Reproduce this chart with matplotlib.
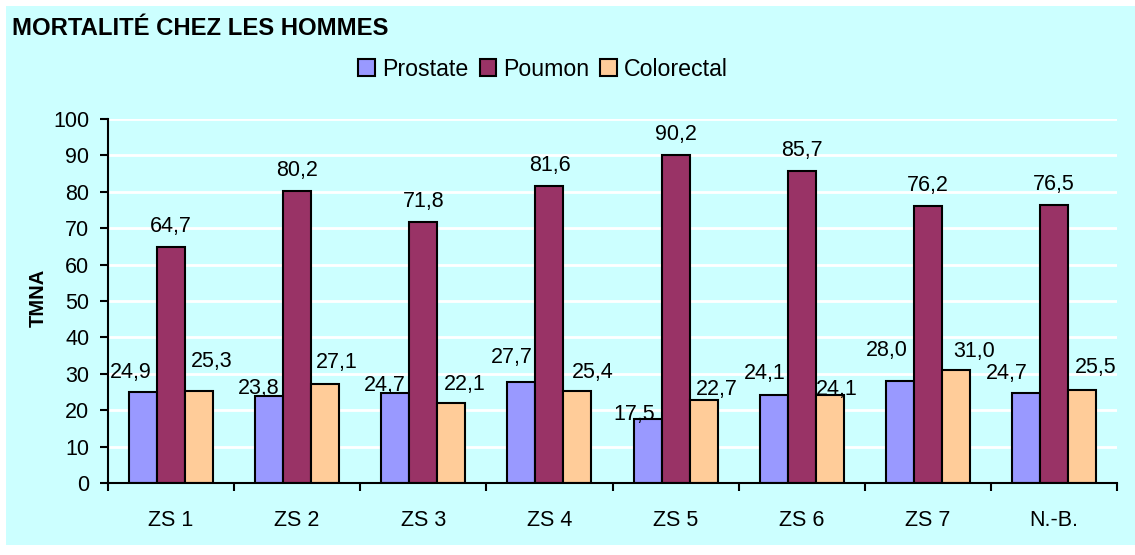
import matplotlib
matplotlib.use("Agg")
import matplotlib.pyplot as plt
from matplotlib.patches import Patch, Rectangle
import numpy as np

plt.rcParams["font.family"] = ["Liberation Sans", "DejaVu Sans"]

TITLE = "MORTALITÉ CHEZ LES HOMMES"
Y_LABEL = "TMNA"
categories = ["ZS 1", "ZS 2", "ZS 3", "ZS 4", "ZS 5", "ZS 6", "ZS 7", "N.-B."]
series_names = ["Prostate", "Poumon", "Colorectal"]
prostate = [24.9, 23.8, 24.7, 27.7, 17.5, 24.1, 28.0, 24.7]
poumon = [64.7, 80.2, 71.8, 81.6, 90.2, 85.7, 76.2, 76.5]
colorectal = [25.3, 27.1, 22.1, 25.4, 22.7, 24.1, 31.0, 25.5]
y_ticks = list(range(0, 101, 10))

# hand-placed label offsets in the original (pixels, from the bar top centre)
prostate_label_dx = [-12, -10, -10, -10, -13, -9, -13, -19]
prostate_label_dy = [22, 10, 10, 27, 7, 24, 33, 22]
poumon_label_dx = [0] * 8
poumon_label_dy = [22.5] * 8
colorectal_label_dx = [13, 12, 13, 15, 13, 7, 18, 14]
colorectal_label_dy = [31, 24, 20, 20, 13, 8, 21, 25]

COLORS = ["#9999FF", "#993366", "#FFCC99"]
BACKGROUND = "#CCFFFF"
W, H = 1135, 555

fig = plt.figure(figsize=(W / 100, H / 100), dpi=100, facecolor="white")
fig.patches.append(
    Rectangle((6 / W, 10 / H), 1 - 6 / W, 1 - 16 / H, transform=fig.transFigure,
              facecolor=BACKGROUND, edgecolor="none", zorder=-10)
)

ax = fig.add_axes([108 / W, 1 - 483 / H, (1117 - 108) / W, (483 - 119) / H])
ax.set_facecolor("none")

x = np.arange(len(categories)) + 0.5
width = 28 / 126
values = [prostate, poumon, colorectal]
dxs = [prostate_label_dx, poumon_label_dx, colorectal_label_dx]
dys = [prostate_label_dy, poumon_label_dy, colorectal_label_dy]

for k, (vals, color) in enumerate(zip(values, COLORS)):
    pos = x + (k - 1) * width
    ax.bar(pos, vals, width=width, color=color, edgecolor="black",
           linewidth=1.5, zorder=3)
    for px, v, dx, dy in zip(pos, vals, dxs[k], dys[k]):
        ax.annotate(f"{v:.1f}".replace(".", ","), (px, v),
                    xytext=(dx, dy - 7.5), textcoords="offset pixels",
                    ha="center", va="baseline", fontsize=15.5, zorder=4)

ax.set_xlim(0, len(categories))
ax.set_ylim(0, 100)
ax.set_yticks(y_ticks)
ax.set_xticks(x)
ax.set_xticklabels(categories)
ax.set_xticks(np.arange(len(categories) + 1), minor=True)
ax.tick_params(axis="x", which="major", length=0, pad=19.5, labelsize=15.5)
ax.tick_params(axis="x", which="minor", length=6, width=1.5, direction="out")
ax.tick_params(axis="y", length=6, width=1.5, pad=7.5, labelsize=15.5)

ax.grid(axis="y", color="white", linewidth=2, zorder=1)
ax.set_axisbelow(True)
for side in ("top", "right"):
    ax.spines[side].set_visible(False)
for side in ("left", "bottom"):
    ax.spines[side].set_linewidth(1.5)
    ax.spines[side].set_zorder(5)

fig.text(12 / W, 1 - 35 / H, TITLE, fontsize=17.2, fontweight="bold",
         ha="left", va="baseline")
fig.text(38 / W, 1 - 298 / H, Y_LABEL, fontsize=14.5, fontweight="bold",
         rotation=90, ha="center", va="center")

handles = [Patch(facecolor=c, edgecolor="black", linewidth=1.5) for c in COLORS]
fig.legend(handles, series_names, loc="center", bbox_to_anchor=(543 / W, 1 - 69 / H),
           ncol=3, frameon=False, fontsize=16.7, handlelength=0.7,
           handleheight=0.7, handletextpad=0.3, columnspacing=0.5,
           borderpad=0, borderaxespad=0)

fig.savefig("out.png", dpi=100, facecolor="white")
